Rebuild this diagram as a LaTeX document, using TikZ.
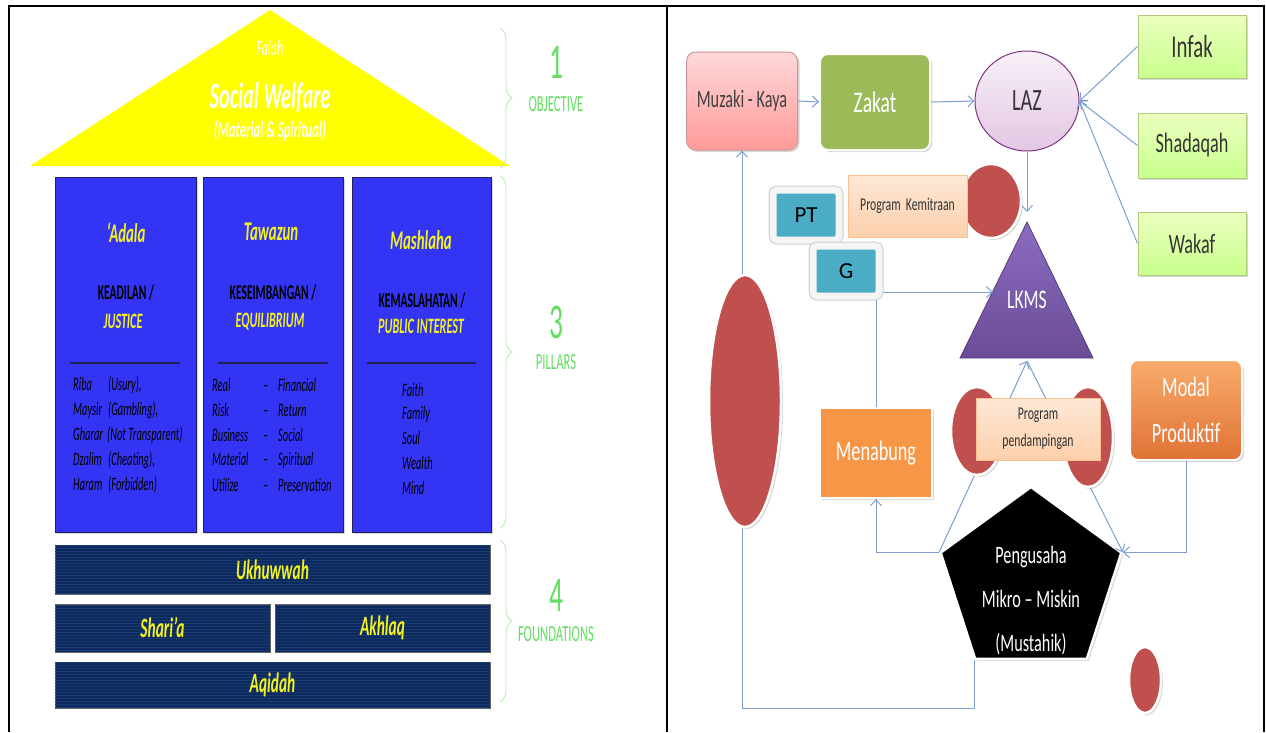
\documentclass[tikz,border=0pt]{standalone}
\usepackage{fontspec}
\setmainfont{Carlito}
\newfontfamily\cf[FakeStretch=0.65]{Carlito}
\newfontfamily\cl[FakeStretch=0.55]{Carlito}
\usetikzlibrary{shapes.geometric,arrows.meta,decorations.pathreplacing,shadows,patterns}
\definecolor{ylw}{HTML}{FFFF00}
\definecolor{ytx}{HTML}{F2F21F}
\definecolor{pblue}{HTML}{3434F5}
\definecolor{pedge}{HTML}{20205A}
\definecolor{fnavy}{HTML}{0E2A5C}
\definecolor{fline}{HTML}{183A72}
\definecolor{glab}{HTML}{62DF62}
\definecolor{gbrace}{HTML}{B6EAAE}
\definecolor{lnc}{HTML}{7C9ED0}
\definecolor{redc}{HTML}{C0504D}
\definecolor{tealc}{HTML}{4BACC6}
\definecolor{orngc}{HTML}{F79646}
\definecolor{zakg}{HTML}{9BBB59}
\definecolor{lkt}{HTML}{8C6CC0}
\definecolor{lkb}{HTML}{6A4C96}
\newcommand\fsz[2]{\fontsize{#1}{#2}\selectfont}
\begin{document}
\begin{tikzpicture}[x=1pt,y=-1pt,font=\cf,
  conn/.style={draw=lnc,line width=1pt,-{Straight Barb[length=6pt,width=11pt]}},
  shd/.style={drop shadow={opacity=0.3,shadow xshift=2pt,shadow yshift=-2pt}},
  tw/.style={text=white,inner sep=0},
  pillar/.style={fill=pblue,draw=pedge,line width=1pt,minimum height=355pt,inner sep=0,shd},
  ytitle/.style={text=ytx,inner sep=0,font=\cl\fsz{27}{30}\bfseries\itshape},
  bcap/.style={text=black,inner sep=0,font=\cl\fsz{21}{24}\bfseries},
  ysub/.style={text=ytx,inner sep=0,font=\cl\fsz{22}{25}\bfseries\itshape},
  sepl/.style={draw=pedge,line width=1.5pt},
  litem/.style={anchor=west,inner sep=0,text=black,font=\cl\fsz{19}{21}\itshape},
  fnd/.style={fill=fnavy,draw=black!60,line width=0.8pt,inner sep=0,
    postaction={pattern=horizontal lines,pattern color=fline},
    text=ytx,font=\cl\fsz{28}{30}\bfseries\itshape},
  brc/.style={draw=gbrace,line width=0.8pt,decorate,decoration={brace,amplitude=12pt,aspect=0.5}},
  glabel/.style={text=glab,inner sep=0,font=\cl\fsz{23}{25}},
  gnum/.style={text=glab,inner sep=0,font=\cl\fsz{50}{50}},
  grn/.style={top color=green!8!lime!25!white,bottom color=green!30!lime!45!white,draw=zakg!80,line width=1pt,
    minimum width=108pt,text=black!80,inner sep=0,shd},
  redo/.style={ellipse,fill=redc,draw=white,line width=2.5pt,inner sep=0,shd},
  prog/.style={top color=orngc!22!white,bottom color=orngc!45!white,draw=orngc!60,line width=0.8pt,
    text=black!80,inner sep=0,font=\cf\fsz{18}{27},align=center},
  tealb/.style={fill=tealc,rounded corners=4pt,minimum width=66pt,minimum height=50pt,inner sep=0,
    preaction={draw=black!20,line width=9pt,shd},draw=white!96!black,line width=7pt,
    text=black,font=\normalfont\fsz{23}{25}},
  orng/.style={fill=orngc,draw=white,line width=2pt,text=white,inner sep=0,shd}
]
\useasboundingbox (0,0) rectangle (1266,732);
\fill[white] (0,0) rectangle (1266,732);
% frame
\draw[line width=2.2pt] (9,732) -- (9,6) -- (1264,6) -- (1264,732);
\draw[line width=2.2pt] (667,6) -- (667,732);

% ===== left: roof =====
\fill[ylw] (270,10) -- (510,166) -- (30,166) -- cycle;
\node[tw] (falah) at (270,48) {\cl\fsz{22}{24}\itshape Falah};
\node[tw] (socw) at (270,98) {\cl\fsz{37}{40}\bfseries\itshape Social Welfare};
\node[tw] (matsp) at (270,131) {\cl\fsz{23}{26}\bfseries\itshape (Material \& Spiritual)};

% pillars
\node[pillar,minimum width=141pt] (p1) at (125.5,354.5) {};
\node[pillar,minimum width=140pt] (p2) at (273,354.5) {};
\node[pillar,minimum width=139pt] (p3) at (421.5,354.5) {};

\node[ytitle] (t1) at (126,233) {‘Adala};
\node[bcap] (k1) at (126,293) {KEADILAN /};
\node[ysub] (j1) at (123,321) {JUSTICE};
\node[ytitle] (t2) at (271,232) {Tawazun};
\node[bcap] (k2) at (273,293) {KESEIMBANGAN /};
\node[ysub] (j2) at (270,322) {EQUILIBRIUM};
\node[ytitle] (t3) at (421,240) {Mashlaha};
\node[bcap] (k3) at (422,301) {KEMASLAHATAN /};
\node[ysub] (j3) at (421,326) {PUBLIC INTEREST};

\draw[sepl] (70,363) -- (180,363);
\draw[sepl] (218,363) -- (328,363);
\draw[sepl] (367,363) -- (476,363);

\node[litem] (a1) at (73,385) {\makebox[35pt][l]{Riba}(Usury),};
\node[litem] (a2) at (73,410) {\makebox[35pt][l]{Maysir}(Gambling),};
\node[litem] (a3) at (73,435) {\makebox[34pt][l]{Gharar}(Not Transparent)};
\node[litem] (a4) at (73,460) {\makebox[35pt][l]{Dzalim}(Cheating),};
\node[litem] (a5) at (73,485) {\makebox[35pt][l]{Haram}(Forbidden)};

\node[litem] (b1) at (212,385) {\makebox[51pt][l]{Real}\makebox[15pt][l]{–}Financial};
\node[litem] (b2) at (212,410) {\makebox[51pt][l]{Risk}\makebox[15pt][l]{–}Return};
\node[litem] (b3) at (212,435) {\makebox[51pt][l]{Business}\makebox[15pt][l]{–}Social};
\node[litem] (b4) at (212,460) {\makebox[51pt][l]{Material}\makebox[15pt][l]{–}Spiritual};
\node[litem] (b5) at (212,485) {\makebox[51pt][l]{Utilize}\makebox[15pt][l]{–}Preservation};

\node[litem] (c1) at (402,390) {Faith};
\node[litem] (c2) at (402,414) {Family};
\node[litem] (c3) at (402,438) {Soul};
\node[litem] (c4) at (402,463) {Wealth};
\node[litem] (c5) at (402,488) {Mind};

% foundations
\node[fnd,minimum width=435pt,minimum height=49pt] (ukh) at (272.5,569.5) {Ukhuwwah};
\node[fnd,minimum width=215pt,minimum height=48pt] (shar) at (162.5,628) {Shari’a};
\node[fnd,minimum width=215pt,minimum height=48pt] (akh) at (382.5,628) {Akhlaq};
\node[fnd,minimum width=435pt,minimum height=46pt] (aqi) at (272.5,685) {Aqidah};

% braces and labels
\draw[brc] (500,28) -- (500,168);
\draw[brc] (500,176) -- (500,528);
\draw[brc] (500,540) -- (500,702);
\node[gnum] (n1) at (556,62) {1};
\node[glabel] (l1) at (556,104) {OBJECTIVE};
\node[gnum] (n3) at (556,322) {3};
\node[glabel] (l3) at (556,362) {PILLARS};
\node[gnum] (n4) at (556,595) {4};
\node[glabel] (l4) at (556,634) {FOUNDATIONS};

% ===== right diagram =====
\coordinate (lkmsTop) at (1027,212);
\coordinate (lkmsL) at (993,292);
\coordinate (lkmsB) at (1027,361);
\coordinate (bl) at (742,708);

\node[rounded corners=9pt,top color=red!15!white,bottom color=red!40!white,draw=red!35!gray!60,line width=1pt,
  minimum width=111pt,minimum height=98pt,inner sep=0,text=black!75,shd] (muz) at (742,101) {\fsz{25}{28}Muzaki - Kaya};
\node[rounded corners=8pt,fill=zakg,draw=white,line width=2pt,minimum width=110pt,minimum height=96pt,
  inner sep=0,text=white,shd] (zak) at (875,102) {\fsz{30}{32}Zakat};
\node[ellipse,top color=violet!6!white,bottom color=violet!22!white,draw=violet!60!gray,line width=1pt,
  minimum width=104pt,minimum height=100pt,inner sep=0,text=black!80] (laz) at (1027,101) {\fsz{31}{32}LAZ};
\node[grn,minimum height=63pt] (inf) at (1192,46.5) {\fsz{32}{34}Infak};
\node[grn,minimum height=65pt] (shad) at (1192,145.5) {\fsz{28}{30}Shadaqah};
\node[grn,minimum height=63pt] (wak) at (1192,243.5) {\fsz{28}{30}Wakaf};

% LKMS triangle
\path[top color=lkt,bottom color=lkb,draw=lkb!80!black,line width=0.8pt]
  (1027,222) -- (1093,358) -- (960,358) -- cycle;
\node[tw] (lkms) at (1027,300) {\fsz{27}{29}LKMS};

\node[orng,minimum width=112pt,minimum height=90pt] (men) at (876,453) {\fsz{28}{30}Menabung};
\node[rounded corners=8pt,top color=orngc!80!white,bottom color=orngc!85!red!90!black,draw=white,line width=2pt,
  minimum width=112pt,minimum height=100pt,inner sep=0,text=white,align=center,font=\cf\fsz{28}{46},shd] (mod) at (1186,410) {Modal\\Produktif};

\node[regular polygon,regular polygon sides=5,minimum size=190pt,inner sep=0,fill=black,draw=white,line width=2.5pt,shd]
  (pent) at (1031,582) {};
\node[tw,align=center,font=\cf\fsz{25}{44}] (ptxt) at (1031,601) {Pengusaha\\Mikro – Miskin\\(Mustahik)};

% connectors
\draw[conn] (muz.east) -- (zak.west);
\draw[conn] (zak.east) -- (laz.west);
\draw[conn] (inf.west) -- (laz.east);
\draw[conn] (shad.west) -- (laz.east);
\draw[conn] (wak.west) -- (laz.east);
\draw[conn] (laz.south) -- (lkmsTop);
\draw[conn] (men.north) |- (lkmsL);
\draw[conn] (pent.corner 2) -- (lkmsB);
\draw[conn] (lkmsB) -- (pent.corner 5);
\draw[conn] (pent.corner 2) -| (men.south);
\draw[conn] (mod.south) |- (pent.corner 5);
\draw[conn] (pent.corner 3) -- (pent.corner 3 |- bl) -| (muz.south);

% red shapes and overlays
\node[redo,minimum width=72pt,minimum height=252pt] (rbig) at (745,401) {};
\node[redo,minimum width=32pt,minimum height=66pt] (rsmall) at (1145,680) {};
\node[redo,minimum width=60pt,minimum height=74pt] (rk) at (991,201) {};
\node[prog,minimum width=119pt,minimum height=62pt] (pk) at (907.5,206) {Program\ \ Kemitraan};
\node[tealb] (pt) at (806,215) {PT};
\node[tealb] (g) at (846,271) {G};
\node[redo,minimum width=52pt,minimum height=88pt] (rl) at (977,431) {};
\node[redo,minimum width=50pt,minimum height=100pt] (rr) at (1088,437) {};
\node[prog,minimum width=124pt,minimum height=62pt] (pp) at (1038,429) {Program\\pendampingan};
\end{tikzpicture}
\end{document}
